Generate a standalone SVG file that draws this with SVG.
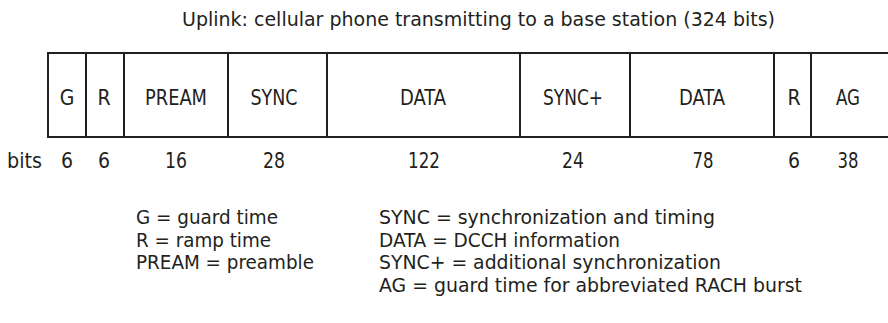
<svg xmlns="http://www.w3.org/2000/svg" width="888" height="323" viewBox="0 0 888 323">
  <style>
    text { font-family: "DejaVu Sans Condensed", "DejaVu Sans", sans-serif; font-stretch: condensed; fill: #231f20; }
    .title { font-size: 20px; }
    .lbl { font-size: 21px; text-anchor: middle; }
    .bits { font-size: 21px; text-anchor: middle; }
    .leg { font-size: 20px; }
    .frame { stroke: #231f20; stroke-width: 2; fill: none; }
  </style>
  <rect width="888" height="323" fill="#ffffff"/>

  <g id="title">
    <text class="title" x="182" y="26" textLength="593" lengthAdjust="spacingAndGlyphs">Uplink: cellular phone transmitting to a base station (324 bits)</text>
  </g>

  <g id="frame" class="frame">
    <line x1="47" y1="53" x2="888" y2="53"/>
    <line x1="47" y1="137" x2="888" y2="137"/>
    <line x1="48" y1="52" x2="48" y2="138"/>
    <line x1="86" y1="53" x2="86" y2="137"/>
    <line x1="124" y1="53" x2="124" y2="137"/>
    <line x1="228" y1="53" x2="228" y2="137"/>
    <line x1="327" y1="53" x2="327" y2="137"/>
    <line x1="520" y1="53" x2="520" y2="137"/>
    <line x1="630" y1="53" x2="630" y2="137"/>
    <line x1="774" y1="53" x2="774" y2="137"/>
    <line x1="811" y1="53" x2="811" y2="137"/>
  </g>

  <g id="field-g"><text class="lbl" x="67" y="105">G</text><text class="bits" x="67" y="168">6</text></g>
  <g id="field-r1"><text class="lbl" x="104" y="105">R</text><text class="bits" x="104" y="168">6</text></g>
  <g id="field-pream"><text class="lbl" x="176" y="105" textLength="62" lengthAdjust="spacingAndGlyphs">PREAM</text><text class="bits" x="176" y="168" textLength="22" lengthAdjust="spacingAndGlyphs">16</text></g>
  <g id="field-sync"><text class="lbl" x="274" y="105" textLength="47" lengthAdjust="spacingAndGlyphs">SYNC</text><text class="bits" x="274" y="168" textLength="22" lengthAdjust="spacingAndGlyphs">28</text></g>
  <g id="field-data1"><text class="lbl" x="423" y="105" textLength="46" lengthAdjust="spacingAndGlyphs">DATA</text><text class="bits" x="424" y="168" textLength="32" lengthAdjust="spacingAndGlyphs">122</text></g>
  <g id="field-syncplus"><text class="lbl" x="573" y="105" textLength="60" lengthAdjust="spacingAndGlyphs">SYNC+</text><text class="bits" x="573" y="168" textLength="22" lengthAdjust="spacingAndGlyphs">24</text></g>
  <g id="field-data2"><text class="lbl" x="702" y="105" textLength="46" lengthAdjust="spacingAndGlyphs">DATA</text><text class="bits" x="703" y="168" textLength="21" lengthAdjust="spacingAndGlyphs">78</text></g>
  <g id="field-r2"><text class="lbl" x="794" y="105">R</text><text class="bits" x="794" y="168">6</text></g>
  <g id="field-ag"><text class="lbl" x="848" y="105" textLength="24" lengthAdjust="spacingAndGlyphs">AG</text><text class="bits" x="848" y="168" textLength="21" lengthAdjust="spacingAndGlyphs">38</text></g>

  <g id="bits-label"><text class="bits" x="24.5" y="168" textLength="35" lengthAdjust="spacingAndGlyphs">bits</text></g>

  <g id="legend">
    <text class="leg" x="136" y="224" textLength="142" lengthAdjust="spacingAndGlyphs">G = guard time</text>
    <text class="leg" x="136" y="246.5" textLength="135" lengthAdjust="spacingAndGlyphs">R = ramp time</text>
    <text class="leg" x="136" y="269" textLength="178" lengthAdjust="spacingAndGlyphs">PREAM = preamble</text>
    <text class="leg" x="379" y="224" textLength="336" lengthAdjust="spacingAndGlyphs">SYNC = synchronization and timing</text>
    <text class="leg" x="379" y="246.5" textLength="241" lengthAdjust="spacingAndGlyphs">DATA = DCCH information</text>
    <text class="leg" x="379" y="269" textLength="342" lengthAdjust="spacingAndGlyphs">SYNC+ = additional synchronization</text>
    <text class="leg" x="379" y="291.5" textLength="423" lengthAdjust="spacingAndGlyphs">AG = guard time for abbreviated RACH burst</text>
  </g>
</svg>
